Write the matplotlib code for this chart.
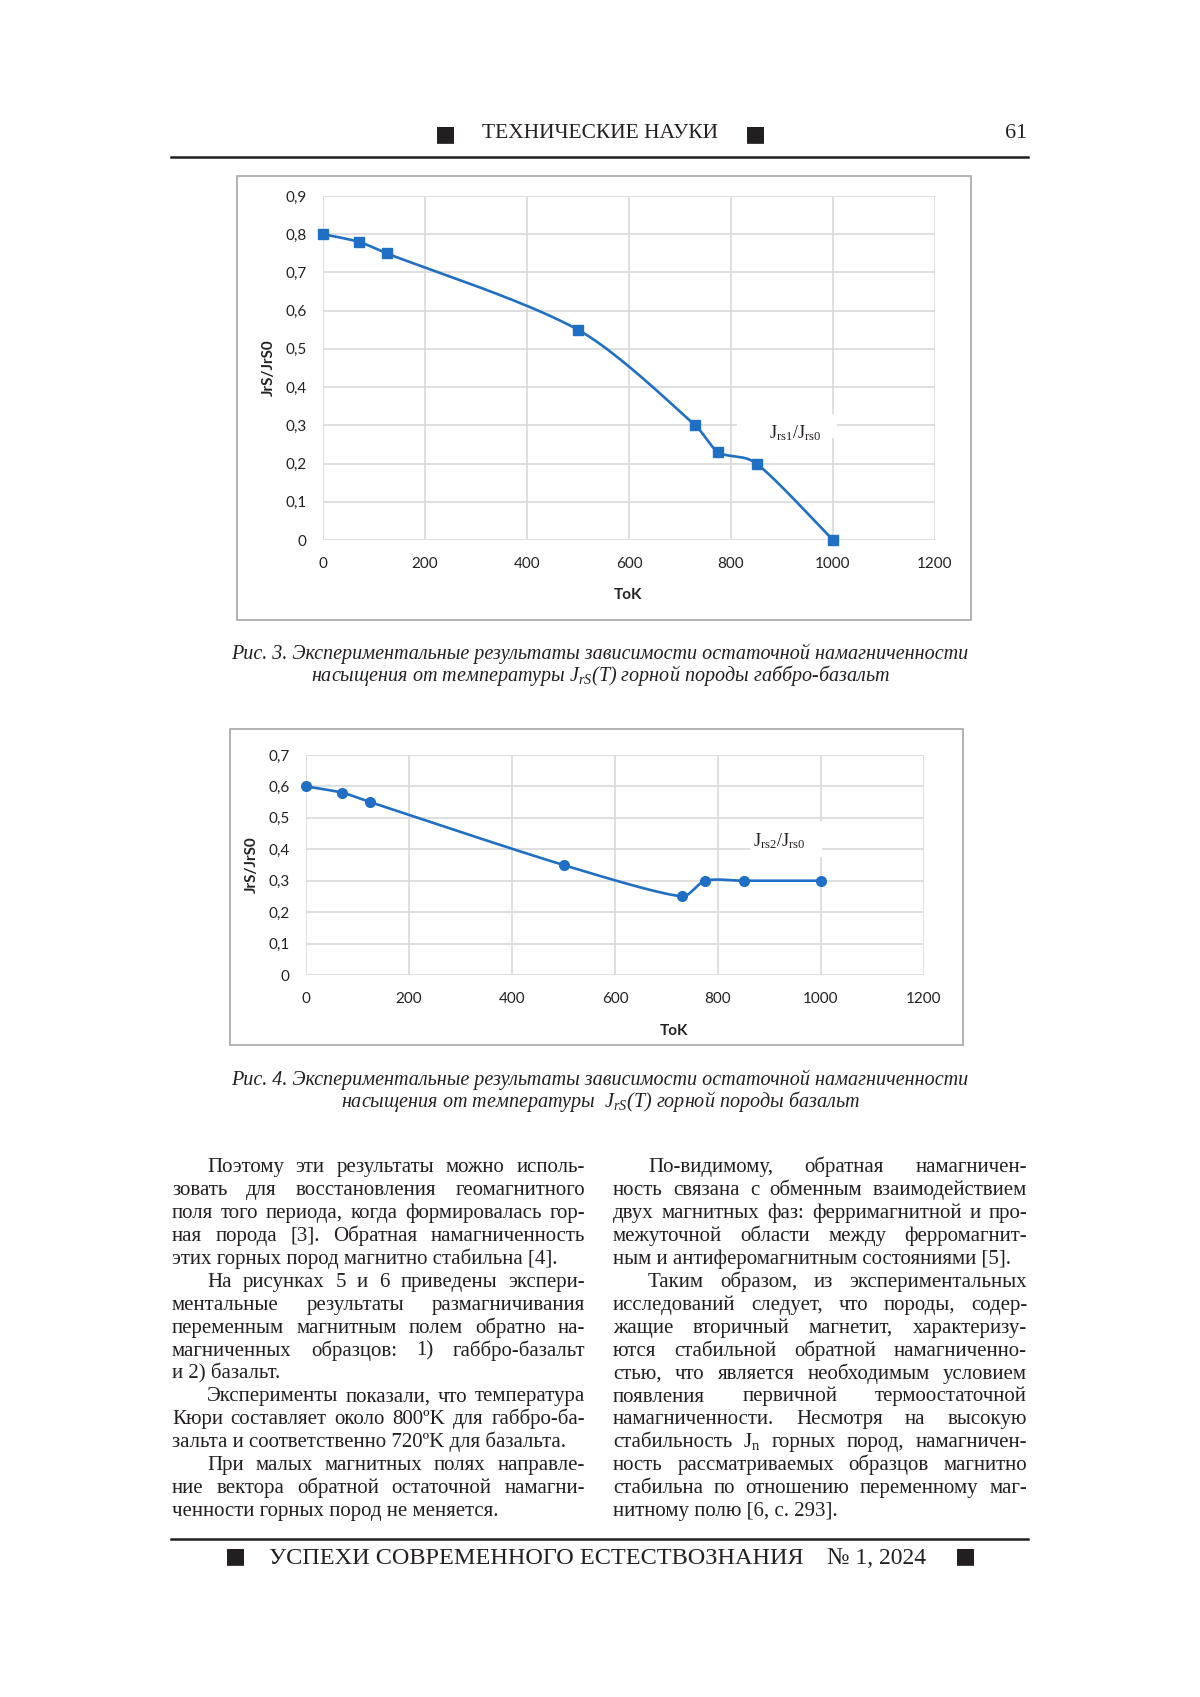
import numpy as np
import matplotlib
matplotlib.use("Agg")
import matplotlib.pyplot as plt
from matplotlib.patches import Rectangle
from matplotlib.lines import Line2D

W, H = 1200, 1697

# --- chart data ---
temp1 = [0, 70, 125, 500, 730, 775, 850, 1000]
ratio1 = [0.80, 0.78, 0.75, 0.55, 0.30, 0.23, 0.20, 0.00]
temp2 = [0, 70, 125, 500, 730, 775, 850, 1000]
ratio2 = [0.60, 0.58, 0.55, 0.35, 0.25, 0.30, 0.30, 0.30]
xticks = [0, 200, 400, 600, 800, 1000, 1200]
yticks1 = [0, 0.1, 0.2, 0.3, 0.4, 0.5, 0.6, 0.7, 0.8, 0.9]
yticks2 = [0, 0.1, 0.2, 0.3, 0.4, 0.5, 0.6, 0.7]
label1 = r"$\mathregular{J_{rs1}/J_{rs0}}$"
label2 = r"$\mathregular{J_{rs2}/J_{rs0}}$"

caption1 = ["Рис. 3. Экспериментальные результаты зависимости остаточной намагниченности",
            r"насыщения от температуры $J_{rS}$(T) горной породы габбро-базальт"]
caption2 = ["Рис. 4. Экспериментальные результаты зависимости остаточной намагниченности",
            r"насыщения от температуры  $J_{rS}$(T) горной породы базальт"]

left_col = [
    ["Поэтому эти результаты можно исполь-",
     "зовать для восстановления геомагнитного",
     "поля того периода, когда формировалась гор-",
     "ная порода [3]. Обратная намагниченность",
     "этих горных пород магнитно стабильна [4]."],
    ["На рисунках 5 и 6 приведены экспери-",
     "ментальные результаты размагничивания",
     "переменным магнитным полем обратно на-",
     "магниченных образцов: 1) габбро-базальт",
     "и 2) базальт."],
    ["Эксперименты показали, что температура",
     "Кюри составляет около 800ºK для габбро-ба-",
     "зальта и соответственно 720ºK для базальта."],
    ["При малых магнитных полях направле-",
     "ние вектора обратной остаточной намагни-",
     "ченности горных пород не меняется."],
]
right_col = [
    ["По-видимому, обратная намагничен-",
     "ность связана с обменным взаимодействием",
     "двух магнитных фаз: ферримагнитной и про-",
     "межуточной области между ферромагнит-",
     "ным и антиферомагнитным состояниями [5]."],
    ["Таким образом, из экспериментальных",
     "исследований следует, что породы, содер-",
     "жащие вторичный магнетит, характеризу-",
     "ются стабильной обратной намагниченно-",
     "стью, что является необходимым условием",
     "появления первичной термоостаточной",
     "намагниченности. Несмотря на высокую",
     r"стабильность $\mathregular{J_n}$ горных пород, намагничен-",
     "ность рассматриваемых образцов магнитно",
     "стабильна по отношению переменному маг-",
     "нитному полю [6, с. 293]."],
]

plt.rcParams['mathtext.fontset'] = 'custom'
plt.rcParams['mathtext.rm'] = 'Liberation Serif'
plt.rcParams['mathtext.it'] = 'Liberation Serif:italic'

INK = '#231f20'
BLUE = '#1f6fc5'
SERIF = ['Liberation Serif', 'DejaVu Serif']
SANS = ['Lato', 'DejaVu Sans']

fig = plt.figure(figsize=(W / 100, H / 100), dpi=100)
fig.patch.set_facecolor('white')


def fx(px):
    return px / W


def fy(py):
    return 1 - py / H


def smooth(x, y, n=40):
    # excel-like smoothed line: catmull-rom segments as cubic bezier,
    # handles shortened where the points are close in x
    x = np.asarray(x, float)
    y = np.asarray(y, float)
    xs, ys = [], []
    t = np.linspace(0, 1, n)
    for i in range(len(x) - 1):
        i0 = max(i - 1, 0)
        i3 = min(i + 2, len(x) - 1)
        dx = x[i + 1] - x[i]
        v1 = np.array([x[i + 1] - x[i0], y[i + 1] - y[i0]]) / 6
        v2 = np.array([x[i3] - x[i], y[i3] - y[i]]) / 6
        if abs(v1[0]) > dx / 3:
            v1 *= (dx / 3) / abs(v1[0])
        if abs(v2[0]) > dx / 3:
            v2 *= (dx / 3) / abs(v2[0])
        c1x, c1y = x[i] + v1[0], y[i] + v1[1]
        c2x, c2y = x[i + 1] - v2[0], y[i + 1] - v2[1]
        a, b, c, d = (1 - t) ** 3, 3 * (1 - t) ** 2 * t, 3 * (1 - t) * t ** 2, t ** 3
        xs.append(a * x[i] + b * c1x + c * c2x + d * x[i + 1])
        ys.append(a * y[i] + b * c1y + c * c2y + d * y[i + 1])
    return np.concatenate(xs), np.concatenate(ys)


def chart(box, area, temps, vals, yticks, marker, label, label_xy, label_rect, xlab, ylab_x):
    bx0, by0, bx1, by1 = box
    fig.add_artist(Rectangle((fx(bx0), fy(by1)), (bx1 - bx0) / W, (by1 - by0) / H,
                             transform=fig.transFigure, fill=False, ec='#a6a6a6', lw=1.2))
    x0, y0, x1, y1 = area
    ax = fig.add_axes([fx(x0), fy(y1), (x1 - x0) / W, (y1 - y0) / H])
    ax.set_xlim(0, 1200)
    ax.set_ylim(0, yticks[-1])
    ax.set_xticks(xticks)
    ax.set_yticks(yticks)
    ax.set_xticklabels([str(v) for v in xticks], fontsize=11, family=SANS)
    ax.set_yticklabels(['0' if v == 0 else f"{v:.1f}".replace('.', ',') for v in yticks],
                       fontsize=11, family=SANS)
    ax.tick_params(length=0, pad=12, colors='#222222')
    ax.grid(True, color='#d9d9d9', lw=1.2)
    ax.set_axisbelow(True)
    for s in ax.spines.values():
        s.set_visible(False)
    rx, ry, rw, rh = label_rect
    ax.add_patch(Rectangle((rx, ry), rw, rh, fc='white', ec='none', zorder=1, clip_on=False))
    sx, sy = smooth(temps, vals)
    ax.plot(sx, sy, color=BLUE, lw=1.9, zorder=3, clip_on=False)
    ax.plot(temps, vals, ls='none', marker=marker, ms=7, color=BLUE, zorder=4, clip_on=False)
    ax.text(label_xy[0], label_xy[1], label, fontsize=13, family=SERIF, ha='center',
            va='center', color=INK, zorder=5)
    fig.text(fx(xlab[0]), fy(xlab[1]), 'ToK', fontsize=11, fontweight='bold',
             family=SANS, ha='center', va='center', color='#222222')
    fig.text(fx(ylab_x), fy((y0 + y1) / 2), 'JrS/JrS0', fontsize=11, fontweight='bold',
             family=SANS, ha='center', va='center', rotation=90, color='#222222')
    return ax


def caption(lines, y_top):
    for k, line in enumerate(lines):
        fig.text(fx(600), fy(y_top + k * 21), line, fontsize=14.5, style='italic',
                 family=SERIF, ha='center', va='center', color=INK)


def column(paras, x0, x1, y_base, step, size=15, indent=35):
    r = fig.canvas.get_renderer()
    k = 0
    for para in paras:
        for j, line in enumerate(para):
            y = fy(y_base + k * step)
            left = x0 + (indent if j == 0 else 0)
            if j == len(para) - 1:
                fig.text(fx(left), y, line, fontsize=size, family=SERIF, color=INK,
                         va='baseline')
            else:
                words = line.split(' ')
                texts = [fig.text(0, y, w, fontsize=size, family=SERIF, color=INK,
                                  va='baseline') for w in words]
                widths = [t.get_window_extent(r).width for t in texts]
                gap = (x1 - left - sum(widths)) / (len(words) - 1)
                pos = left
                for t, w in zip(texts, widths):
                    t.set_x(fx(pos))
                    pos += w + gap
            k += 1


# header
fig.text(fx(445), fy(134), '■', fontsize=16, family=['DejaVu Sans'], ha='center',
         va='center', color=INK)
fig.text(fx(600), fy(134), 'ТЕХНИЧЕСКИЕ НАУКИ', fontsize=15.5, family=SERIF,
         ha='center', va='center', color=INK)
fig.text(fx(755), fy(134), '■', fontsize=16, family=['DejaVu Sans'], ha='center',
         va='center', color=INK)
fig.text(fx(1027), fy(134), '61', fontsize=16, family=SERIF, ha='right', va='center',
         color=INK)
fig.add_artist(Line2D([fx(171), fx(1028)], [fy(157), fy(157)], lw=1.8, color=INK))

# charts
chart((237, 176, 971, 620), (323, 196, 935, 540), temp1, ratio1, yticks1, 's', label1,
      (925, 0.28), (812, 0.266, 196, 0.064), (628, 595), 269)
caption(caption1, 654)

chart((230, 729, 963, 1045), (306, 755, 924, 975), temp2, ratio2, yticks2, 'o', label2,
      (918, 0.425), (862, 0.375, 140, 0.115), (674, 1031), 252)
caption(caption2, 1080)

# body text
column(left_col, 172, 585, 1172, 22.95)
column(right_col, 613, 1027, 1172, 22.95)

# footer
fig.add_artist(Line2D([fx(171), fx(1028)], [fy(1539), fy(1539)], lw=1.8, color=INK))
fig.text(fx(235), fy(1556), '■', fontsize=16, family=['DejaVu Sans'], ha='center',
         va='center', color=INK)
fig.text(fx(536), fy(1558), 'УСПЕХИ СОВРЕМЕННОГО ЕСТЕСТВОЗНАНИЯ', fontsize=17.5,
         family=SERIF, ha='center', va='center', color=INK)
fig.text(fx(877), fy(1558), '№ 1, 2024', fontsize=17, family=SERIF, ha='center',
         va='center', color=INK)
fig.text(fx(965), fy(1556), '■', fontsize=16, family=['DejaVu Sans'], ha='center',
         va='center', color=INK)

fig.savefig('out.png', dpi=100)
